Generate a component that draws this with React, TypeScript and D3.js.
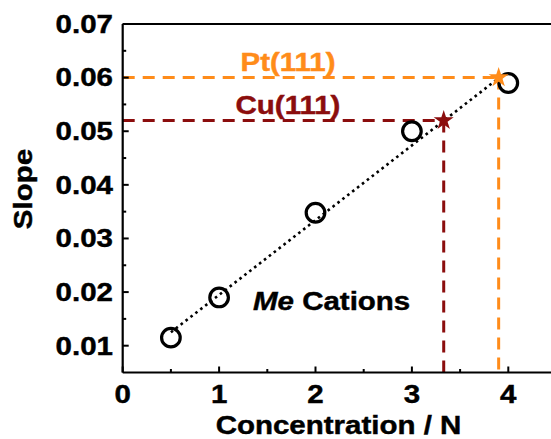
import React from "react";
import * as d3 from "d3";

// measured points (Me cations)
const concentration = [0.5, 1, 2, 3, 4];
const slopes = [0.0115, 0.019, 0.0348, 0.05, 0.059];

// dotted fit line end points
const fitX = [0.5, 3.9];
const fitY = [0.0125, 0.0599];

// reference surfaces (stars)
const refNames = ["Cu(111)", "Pt(111)"];
const refX = [3.33, 3.9];
const refY = [0.052, 0.06];
const refColors = ["#8b0d0d", "#ff8c1a"];

const xTicks = [0, 1, 2, 3, 4];
const yTicks = [0.01, 0.02, 0.03, 0.04, 0.05, 0.06, 0.07];
const xMinor = [0.5, 1.5, 2.5, 3.5];
const yMinor = [0.015, 0.025, 0.035, 0.045, 0.055, 0.065];

const W = 551;
const H = 439;
const FONT = "'Liberation Sans', Arial, sans-serif";
const FS = 29.5;

// bold label, squeezed a bit vertically like the reference glyphs
const Label = ({ x, y, rotate = 0, anchor = "start", baseline = "auto", fill = "#000", children }: any) => (
  <g transform={`translate(${x},${y}) rotate(${rotate}) scale(1,0.88)`}>
    <text
      textAnchor={anchor}
      dominantBaseline={baseline}
      fontFamily={FONT}
      fontWeight="bold"
      fontSize={FS}
      fill={fill}
      stroke={fill}
      strokeWidth={0.5}
    >
      {children}
    </text>
  </g>
);

const App = () => {
  const x = d3.scaleLinear().domain([0, 4.5]).range([122.7, 556.5]);
  const y = d3.scaleLinear().domain([0.005, 0.07]).range([372.5, 24]);

  const fitLine = d3
    .line<number>()
    .x((d) => x(d))
    .y((d, i) => y(fitY[i]));

  const star = d3.symbol().type(d3.symbolStar).size(125)();

  return (
    <div style={{ position: "absolute", left: 0, top: 0 }}>
      <svg width={W} height={H} style={{ display: "block", background: "#fff" }}>
        {/* dashed guide lines */}
        {refNames.map((name, i) => (
          <g key={name}>
            <line
              x1={x(0)}
              x2={x(refX[i])}
              y1={y(refY[i])}
              y2={y(refY[i])}
              stroke={refColors[i]}
              strokeWidth={3}
              strokeDasharray="12 8"
            />
            <line
              x1={x(refX[i])}
              x2={x(refX[i])}
              y1={y(refY[i])}
              y2={y(0.005)}
              stroke={refColors[i]}
              strokeWidth={3}
              strokeDasharray="12 8"
            />
            <Label x={288} y={y(refY[i]) - 7} anchor="middle" fill={refColors[i]}>
              {name}
            </Label>
          </g>
        ))}

        {/* fit line */}
        <path
          d={fitLine(fitX) || ""}
          fill="none"
          stroke="#000"
          strokeWidth={2.6}
          strokeDasharray="2.6 3.6"
        />

        {/* data circles */}
        {concentration.map((c, i) => (
          <circle key={c} cx={x(c)} cy={y(slopes[i])} r={9.3} fill="none" stroke="#000" strokeWidth={3.2} />
        ))}

        {/* stars */}
        {refNames.map((name, i) => (
          <path
            key={name + "s"}
            d={star || ""}
            transform={`translate(${x(refX[i])},${y(refY[i])})`}
            fill={refColors[i]}
          />
        ))}

        <Label x={253} y={310}>
          <tspan fontStyle="italic">Me</tspan> Cations
        </Label>

        {/* axes frame */}
        <line x1={x(0)} x2={W} y1={y(0.07)} y2={y(0.07)} stroke="#000" strokeWidth={2.2} />
        <line x1={x(0)} x2={W} y1={y(0.005)} y2={y(0.005)} stroke="#000" strokeWidth={2.2} />
        <line x1={x(0)} x2={x(0)} y1={y(0.07)} y2={y(0.005)} stroke="#000" strokeWidth={2.2} />

        {xTicks.map((t) => (
          <g key={"xt" + t}>
            <line x1={x(t)} x2={x(t)} y1={y(0.005)} y2={y(0.005) - 6} stroke="#000" strokeWidth={2} />
            <Label x={x(t)} y={394} anchor="middle" baseline="central">
              {t}
            </Label>
          </g>
        ))}
        {xMinor.map((t) => (
          <line key={"xm" + t} x1={x(t)} x2={x(t)} y1={y(0.005)} y2={y(0.005) - 3.5} stroke="#000" strokeWidth={2} />
        ))}

        {yTicks.map((t) => (
          <g key={"yt" + t}>
            <line x1={x(0)} x2={x(0) + 6} y1={y(t)} y2={y(t)} stroke="#000" strokeWidth={2} />
            <Label x={113} y={y(t)} anchor="end" baseline="central">
              {d3.format(".2f")(t)}
            </Label>
          </g>
        ))}
        {yMinor.map((t) => (
          <line key={"ym" + t} x1={x(0)} x2={x(0) + 3.5} y1={y(t)} y2={y(t)} stroke="#000" strokeWidth={2} />
        ))}

        <Label x={338.5} y={434} anchor="middle">
          Concentration / N
        </Label>
        <Label x={23} y={189} rotate={-90} anchor="middle" baseline="central">
          Slope
        </Label>
      </svg>
    </div>
  );
};

export default App;
